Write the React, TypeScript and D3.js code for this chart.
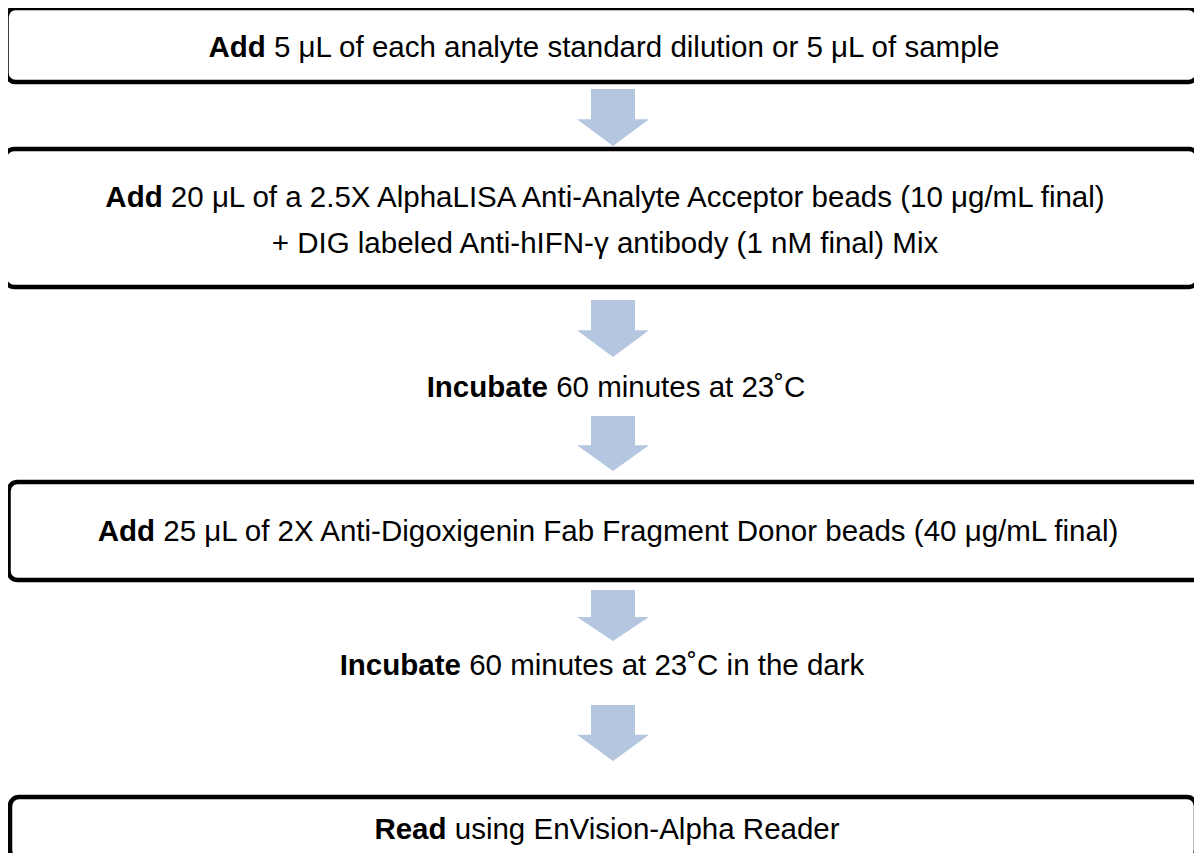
import React, { useEffect, useRef } from 'react';
import * as d3 from 'd3';

// protocol steps: bold verb, rest of line(s)
const stepVerbs = ['Add', 'Add', 'Incubate', 'Add', 'Incubate', 'Read'];
const stepLines = [
  [' 5 μL of each analyte standard dilution or 5 μL of sample'],
  [' 20 μL of a 2.5X AlphaLISA Anti-Analyte Acceptor beads (10 μg/mL final)', '+ DIG labeled Anti-hIFN-γ antibody (1 nM final) Mix'],
  [' 60 minutes at 23˚C'],
  [' 25 μL of 2X Anti-Digoxigenin Fab Fragment Donor beads (40 μg/mL final)'],
  [' 60 minutes at 23˚C in the dark'],
  [' using EnVision-Alpha Reader'],
];

// layout (pixels)
const boxes = [
  { x: 6.5, y: 8, w: 1191, h: 74 },
  { x: 5, y: 149, w: 1193, h: 138 },
  { x: 8.5, y: 482, w: 1210, h: 98 },
  { x: 10, y: 797, w: 1186, h: 62 },
];
const textX = [604, 605, 616, 608, 602, 607];
const textY = [46, 196, 386, 530, 664, 828];
const arrows = [
  { top: 89, tip: 146 },
  { top: 300, tip: 357 },
  { top: 416, tip: 471 },
  { top: 590, tip: 641 },
  { top: 705, tip: 761 },
];

const W = 1202;
const H = 861;

function arrowPath(top: number, tip: number) {
  const cx = 613;
  const shaft = 22;
  const head = 36;
  const headY = tip - (tip - top) * 0.47;
  const p = d3.path();
  p.moveTo(cx - shaft, top);
  p.lineTo(cx + shaft, top);
  p.lineTo(cx + shaft, headY);
  p.lineTo(cx + head, headY);
  p.lineTo(cx, tip);
  p.lineTo(cx - head, headY);
  p.lineTo(cx - shaft, headY);
  p.closePath();
  return p.toString();
}

export default function App() {
  const svgRef = useRef<SVGSVGElement | null>(null);

  useEffect(() => {
    if (!svgRef.current) return;
    const svg = d3.select(svgRef.current);
    svg.selectAll('*').remove();

    svg.append('rect').attr('width', W).attr('height', H).attr('fill', '#ffffff');

    svg.append('g')
      .selectAll('path')
      .data(arrows)
      .join('path')
      .attr('d', d => arrowPath(d.top, d.tip))
      .attr('fill', '#b4c6e0');

    svg.append('g')
      .selectAll('rect')
      .data(boxes)
      .join('rect')
      .attr('x', d => d.x)
      .attr('y', d => d.y)
      .attr('width', d => d.w)
      .attr('height', d => d.h)
      .attr('rx', 9)
      .attr('fill', 'none')
      .attr('stroke', '#000')
      .attr('stroke-width', 4.5);

    const lineGap = 46;
    stepVerbs.forEach((verb, i) => {
      const lines = stepLines[i];
      lines.forEach((ln, j) => {
        const t = svg.append('text')
          .attr('x', textX[i])
          .attr('y', textY[i] + j * lineGap)
          .attr('text-anchor', 'middle')
          .attr('dominant-baseline', 'central')
          .attr('font-family', 'Liberation Sans, Arial, sans-serif')
          .attr('font-size', 29.5)
          .attr('fill', '#000');
        if (j === 0) {
          t.append('tspan').attr('font-weight', 'bold').text(verb);
        }
        t.append('tspan').text(ln);
      });
    });
  }, []);

  return (
    <div style={{ margin: -8 }}>
      <svg ref={svgRef} width={W} height={H} style={{ display: 'block' }}></svg>
    </div>
  );
}
